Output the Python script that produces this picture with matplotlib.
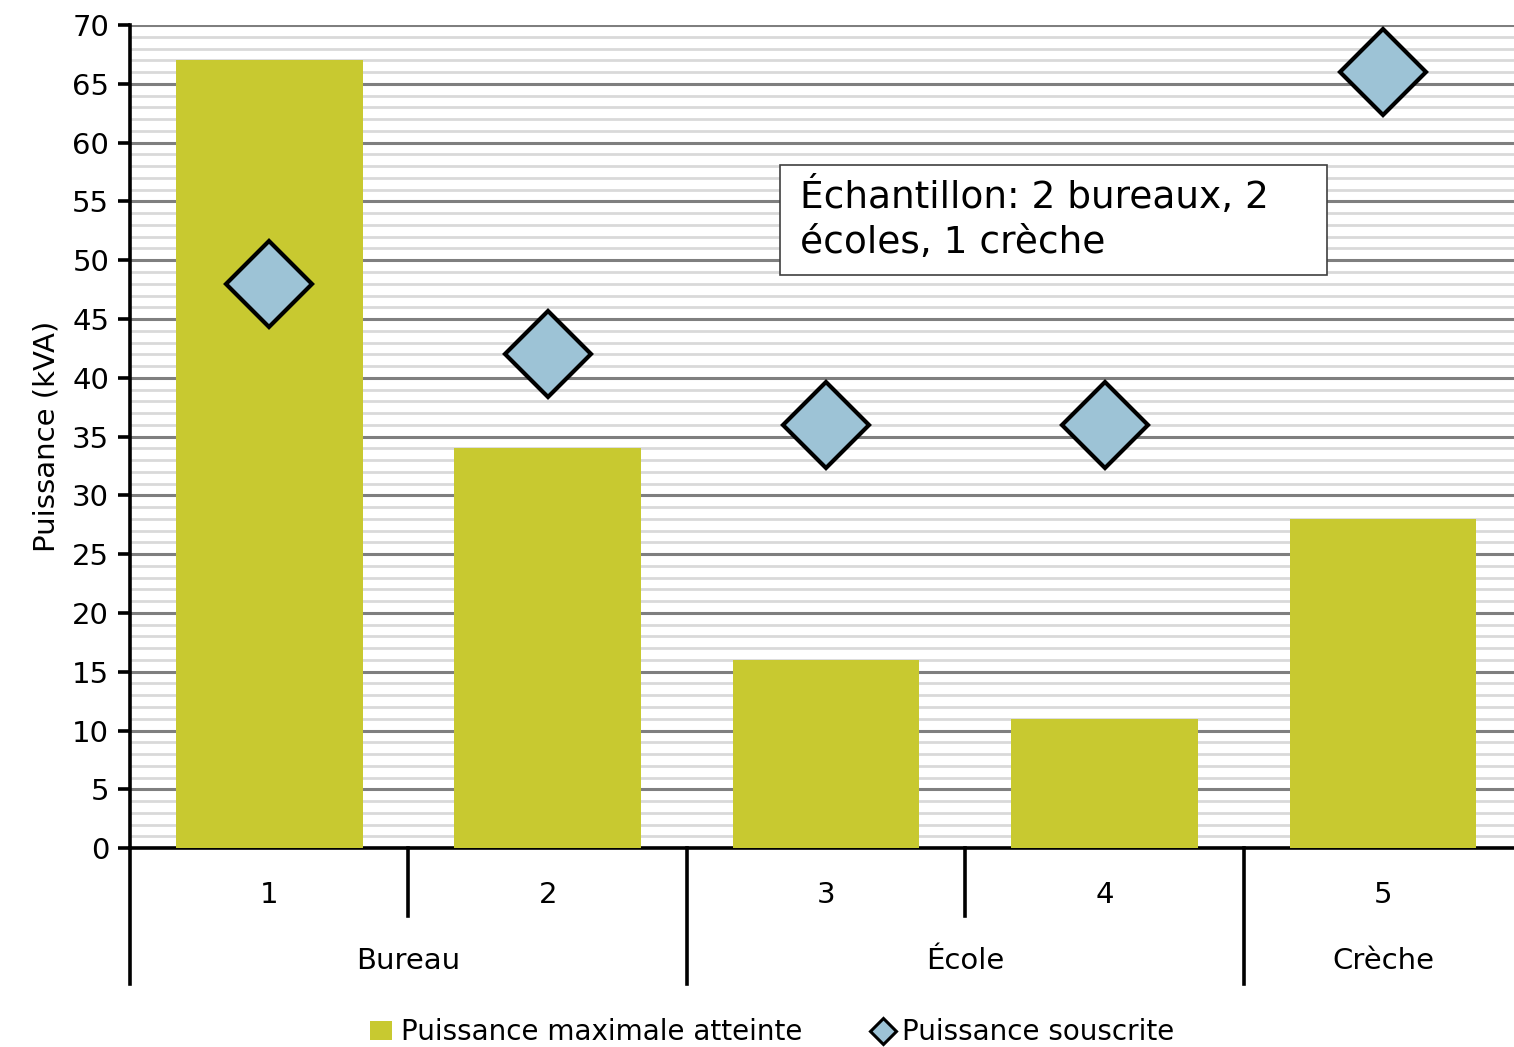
import matplotlib.pyplot as plt
import matplotlib.transforms as mtransforms
from matplotlib.patches import Patch, Rectangle
from matplotlib.lines import Line2D

plt.rcParams['font.family'] = ['DejaVu Sans']

# data
sites = ['1', '2', '3', '4', '5']
groups = ['Bureau', 'École', 'Crèche']
group_sizes = [2, 2, 1]
p_max = [67, 34, 16, 11, 28]
p_souscrite = [48, 42, 36, 36, 66]

bar_color = '#c8c930'
diamond_color = '#9dc3d6'

fig = plt.figure(figsize=(15.14, 10.47), dpi=100)
ax = fig.add_axes([0.0859, 0.190, 0.9195, 0.786])

x = list(range(1, len(sites) + 1))
ax.bar(x, p_max, width=0.67, color=bar_color, zorder=3)
ax.plot(x, p_souscrite, linestyle='none', marker='D', markersize=44,
        markerfacecolor=diamond_color, markeredgecolor='black',
        markeredgewidth=3, zorder=4)

ax.set_xlim(0.5, len(sites) + 0.5)
ax.set_ylim(0, 70)
ax.set_yticks(range(0, 71, 5))
ax.set_yticks(range(0, 71, 1), minor=True)
ax.grid(True, which='major', axis='y', color='#7f7f7f', linewidth=2.2, zorder=1)
ax.grid(True, which='minor', axis='y', color='#d9d9d9', linewidth=2.0, zorder=0)
ax.set_axisbelow(True)

for s in ['top', 'right']:
    ax.spines[s].set_visible(False)
ax.spines['left'].set_linewidth(2.6)
ax.spines['bottom'].set_linewidth(2.6)
ax.tick_params(axis='y', which='major', length=9, width=2.6, labelsize=21, pad=6)
ax.tick_params(axis='y', which='minor', length=0)
ax.set_xticks(x)
ax.set_xticklabels(sites)
ax.tick_params(axis='x', length=0, labelsize=21, pad=24)
ax.set_ylabel('Puissance (kVA)', fontsize=21, labelpad=8)

# multi-level category axis
trans = mtransforms.blended_transform_factory(ax.transData, ax.transAxes)
edges = [0.5]
for n in group_sizes:
    edges.append(edges[-1] + n)
for e in edges[:-1]:
    ax.plot([e, e], [0, -0.165], color='black', lw=2.6, transform=trans, clip_on=False)
pos = 0.5
for g, n in zip(groups, group_sizes):
    for k in range(1, n):
        ax.plot([pos + k, pos + k], [0, -0.082], color='black', lw=2.6,
                transform=trans, clip_on=False)
    ax.text(pos + n / 2, -0.137, g, transform=trans, ha='center', va='center', fontsize=21)
    pos += n

# annotation box
ax.add_patch(Rectangle((0.467, 0.696), 0.393, 0.134, transform=ax.transAxes,
                       facecolor='white', edgecolor='#404040', lw=1.2, zorder=5))
ax.text(0.481, 0.815, 'Échantillon: 2 bureaux, 2\nécoles, 1 crèche', transform=ax.transAxes,
        ha='left', va='top', fontsize=27, linespacing=1.3, zorder=6)

handles = [Patch(facecolor=bar_color, label='Puissance maximale atteinte'),
           Line2D([], [], linestyle='none', marker='D', markersize=13,
                  markerfacecolor=diamond_color, markeredgecolor='black',
                  markeredgewidth=2.2, label='Puissance souscrite')]
fig.legend(handles=handles, loc='center', bbox_to_anchor=(0.51, 0.014), ncol=2,
           frameon=False, fontsize=20, handlelength=0.8, handletextpad=0.3,
           columnspacing=2.5)

fig.savefig('out.png', dpi=100)
